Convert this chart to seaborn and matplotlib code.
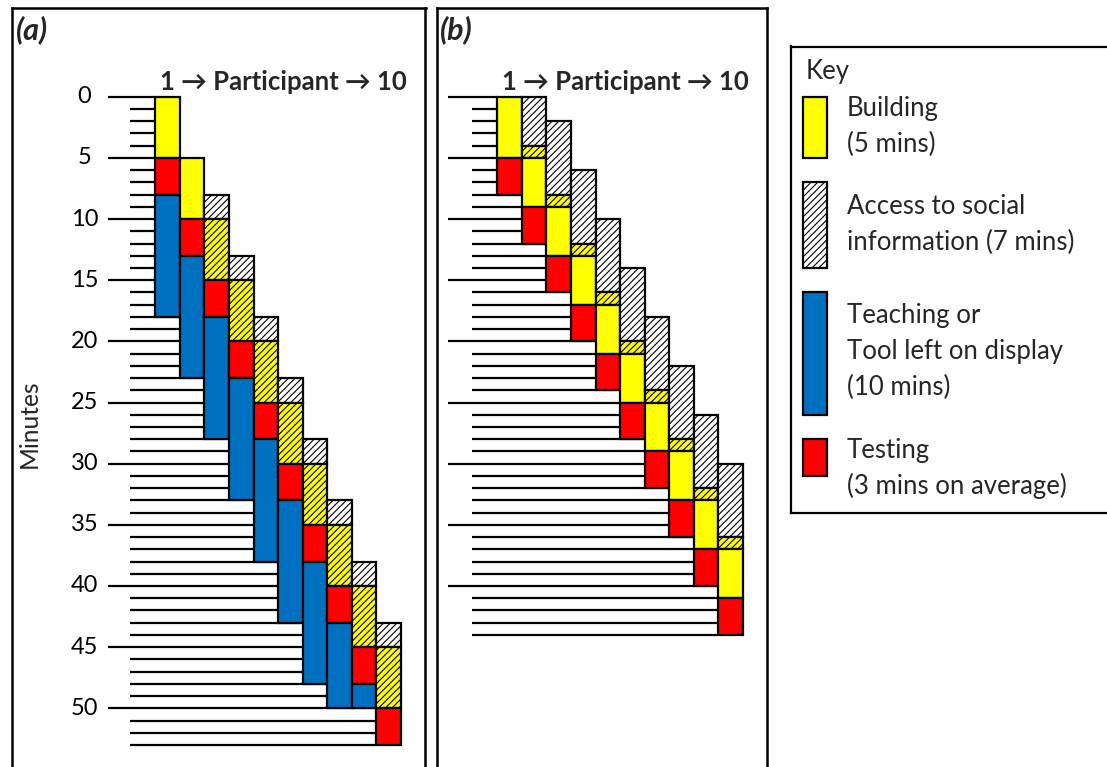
import matplotlib
matplotlib.use("Agg")
import matplotlib.pyplot as plt
import seaborn as sns
import numpy as np

sns.set_theme(style="white")
plt.rcParams['font.family'] = ['Lato', 'DejaVu Sans']
plt.rcParams['hatch.linewidth'] = 0.8
plt.rcParams['hatch.color'] = 'black'

# ---------------- data ----------------
participants = [1, 2, 3, 4, 5, 6, 7, 8, 9, 10]
nan = np.nan

# Panel (a): minutes from session start
a_social_start = [nan, nan, 8, 13, 18, 23, 28, 33, 38, 43]
a_social_end = [nan, nan, 15, 20, 25, 30, 35, 40, 45, 50]
a_build_start = [0, 5, 10, 15, 20, 25, 30, 35, 40, 45]
a_build_end = [5, 10, 15, 20, 25, 30, 35, 40, 45, 50]
a_test_start = [5, 10, 15, 20, 25, 30, 35, 40, 45, 50]
a_test_end = [8, 13, 18, 23, 28, 33, 38, 43, 48, 53]
a_teach_start = [8, 13, 18, 23, 28, 33, 38, 43, 48, nan]
a_teach_end = [18, 23, 28, 33, 38, 43, 48, 50, 50, nan]

# Panel (b)
b_social_start = [nan, 0, 2, 6, 10, 14, 18, 22, 26, 30]
b_social_end = [nan, 5, 9, 13, 17, 21, 25, 29, 33, 37]
b_build_start = [0, 4, 8, 12, 16, 20, 24, 28, 32, 36]
b_build_end = [5, 9, 13, 17, 21, 25, 29, 33, 37, 41]
b_test_start = [5, 9, 13, 17, 21, 25, 29, 33, 37, 41]
b_test_end = [8, 12, 16, 20, 24, 28, 32, 36, 40, 44]
b_teach_start = [nan] * 10
b_teach_end = [nan] * 10

minute_ticks = [0, 5, 10, 15, 20, 25, 30, 35, 40, 45, 50]
panel_titles = ["(a)", "(b)"]
header = "1 \u2192 Participant \u2192 10"
y_label = "Minutes"

key_title = "Key"
key_labels = [["Building", "(5 mins)"],
              ["Access to social", "information (7 mins)"],
              ["Teaching or", "Tool left on display", "(10 mins)"],
              ["Testing", "(3 mins on average)"]]
key_durations = [5, 7, 10, 3]
key_styles = ["build", "social", "teach", "test"]

# ---------------- styling ----------------
W, H = 1107, 767
PXM = 12.23      # pixels per minute
Y0 = 96.8        # pixel y of minute 0
COLW = 24.55     # column width in px
LW = 1.6
STYLE = {
    "build": dict(color="#FFFF00", hatch=None),
    "social": dict(color="white", hatch="/////"),
    "both": dict(color="#FFFF00", hatch="/////"),
    "test": dict(color="#FF0000", hatch=None),
    "teach": dict(color="#0070C0", hatch=None),
}
FS_TEXT = 18.5

fig = plt.figure(figsize=(W / 100, H / 100), dpi=100)


def make_axes(L, R, T, B, x0px):
    ax = fig.add_axes([L / W, 1 - B / H, (R - L) / W, (B - T) / H])
    ax.set_xlim(0.5 + (L - x0px) / COLW, 0.5 + (R - x0px) / COLW)
    ax.set_ylim((B - Y0) / PXM, (T - Y0) / PXM)
    ax.set_xticks([])
    ax.set_yticks([])
    ax.set_facecolor("white")
    for s in ax.spines.values():
        s.set_visible(True)
        s.set_color("black")
        s.set_linewidth(1.8)
    return ax


def segments(ss, se, bs, be, ts, te, hs, he):
    out = []
    for i, p in enumerate(participants):
        phases = []
        for name, s, e in [("social", ss[i], se[i]), ("build", bs[i], be[i]),
                           ("test", ts[i], te[i]), ("teach", hs[i], he[i])]:
            if not np.isnan(s):
                phases.append((name, s, e))
        pts = sorted(set([q[1] for q in phases] + [q[2] for q in phases]))
        for a, b in zip(pts[:-1], pts[1:]):
            active = {n for n, s, e in phases if s <= a and e >= b}
            if not active:
                continue
            if "teach" in active:
                st = "teach"
            elif "test" in active:
                st = "test"
            elif "build" in active and "social" in active:
                st = "both"
            elif "build" in active:
                st = "build"
            else:
                st = "social"
            out.append((p, a, b, st))
    return out


def draw_panel(ax, segs, ends, major_off, minor_off):
    tmax = int(max(ends))
    for m in range(0, tmax + 1):
        idx = next((i for i, e in enumerate(ends) if e > m), len(ends) - 1)
        xe = participants[idx] - 0.5
        xs = 0.5 + (major_off if m % 5 == 0 else minor_off)
        ax.hlines(m, xs, xe, color="black", lw=LW, zorder=1)
    for p, a, b, st in segs:
        sty = STYLE[st]
        ax.bar(p, b - a, bottom=a, width=1.0, color=sty["color"],
               hatch=sty["hatch"], edgecolor="black", linewidth=LW, zorder=2)


def ends_of(*lists):
    arr = np.array(lists, dtype=float)
    return list(np.nanmax(arr, axis=0))


# Panel (a)
ax_a = make_axes(11.5, 425.5, 7.8, 800, 155.3)
segs_a = segments(a_social_start, a_social_end, a_build_start, a_build_end,
                  a_test_start, a_test_end, a_teach_start, a_teach_end)
ends_a = ends_of(a_social_end, a_build_end, a_test_end, a_teach_end)
draw_panel(ax_a, segs_a, ends_a, -1.94, -1.03)
for t in minute_ticks:
    ax_a.text(0.5 + (84.3 - 155.3) / COLW, t, str(t), ha="center", va="center",
              fontsize=17, color="black")
ax_a.text(0.5 + (15.5 - 155.3) / COLW, (39 - Y0) / PXM, panel_titles[0],
          fontsize=22, fontweight="bold", fontstyle="italic", ha="left", va="baseline")
ax_a.text(0.5 + (283.5 - 155.3) / COLW, (90 - Y0) / PXM, header, fontsize=18.5,
          fontweight="bold", ha="center", va="baseline")
fig.text(29.5 / W, 1 - 424 / H, y_label, rotation=90, ha="center", va="center",
         fontsize=17.7)

# Panel (b)
ax_b = make_axes(436.5, 766.5, 7.8, 800, 497.3)
segs_b = segments(b_social_start, b_social_end, b_build_start, b_build_end,
                  b_test_start, b_test_end, b_teach_start, b_teach_end)
ends_b = ends_of(b_social_end, b_build_end, b_test_end)
draw_panel(ax_b, segs_b, ends_b, -2.0, -1.02)
ax_b.text(0.5 + (440 - 497.3) / COLW, (39 - Y0) / PXM, panel_titles[1],
          fontsize=22, fontweight="bold", fontstyle="italic", ha="left", va="baseline")
ax_b.text(0.5 + (625 - 497.3) / COLW, (90 - Y0) / PXM, header, fontsize=18.5,
          fontweight="bold", ha="center", va="baseline")

# Key box (x in px, y in minutes)
L, R, T, B = 791.3, 1140, 46.5, 512.7
ax_k = fig.add_axes([L / W, 1 - B / H, (R - L) / W, (B - T) / H])
ax_k.set_xlim(L, R)
ax_k.set_ylim((B - Y0) / PXM, (T - Y0) / PXM)
ax_k.set_xticks([])
ax_k.set_yticks([])
for s in ax_k.spines.values():
    s.set_visible(True)
    s.set_color("black")
    s.set_linewidth(1.6)
ax_k.text(806, (78.5 - Y0) / PXM, key_title, fontsize=FS_TEXT, ha="left", va="baseline")
top = 0.0
line_offsets = [19, 31.5, 30.5, 19]
for dur, st, lines, off in zip(key_durations, key_styles, key_labels, line_offsets):
    sty = STYLE[st]
    ax_k.bar(815, dur, bottom=top, width=24.5, color=sty["color"], hatch=sty["hatch"],
             edgecolor="black", linewidth=LW)
    for j, ln in enumerate(lines):
        yb = Y0 + top * PXM + off + j * 36.2
        ax_k.text(847, (yb - Y0) / PXM, ln, fontsize=FS_TEXT, ha="left", va="baseline")
    top += dur + 2

fig.savefig("out.png", dpi=100)
